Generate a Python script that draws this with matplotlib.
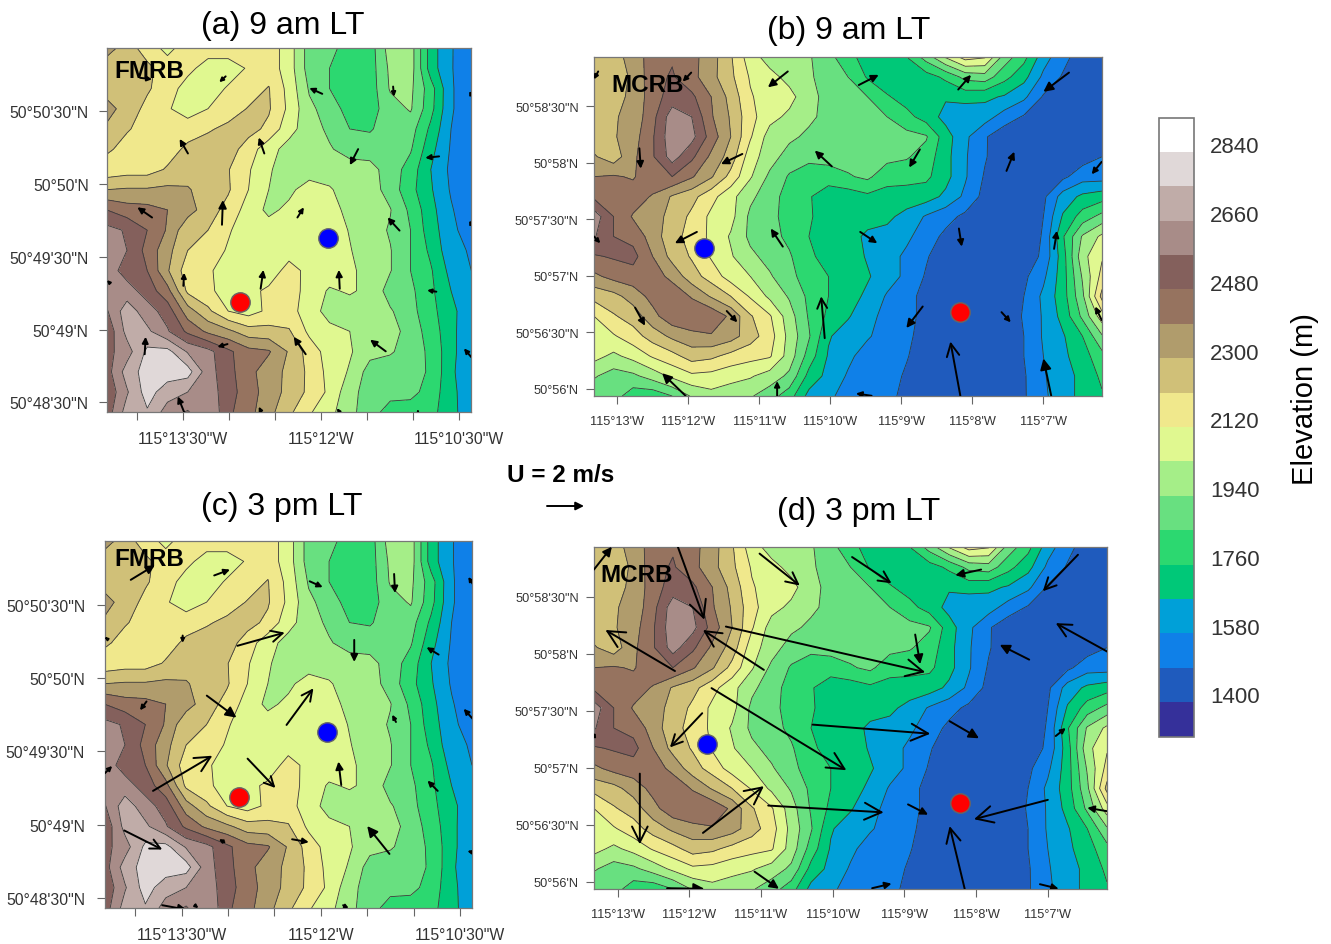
import numpy as np
import matplotlib
matplotlib.use('Agg')
import matplotlib.pyplot as plt
from matplotlib.colors import ListedColormap, BoundaryNorm
from matplotlib.patches import FancyArrowPatch
from matplotlib.colorbar import ColorbarBase

plt.rcParams['font.family'] = ['Liberation Sans', 'DejaVu Sans']

W, H = 1331, 945

levels = [1400, 1490, 1580, 1670, 1760, 1850, 1940, 2030, 2120, 2210, 2300, 2390, 2480, 2570, 2660, 2750, 2840]
colors = ['#35309a', '#1f5bbd', '#0f80e8', '#00a0d8', '#00c878', '#2cd870', '#68e080', '#a5ee88', '#e0f890',
          '#f0e88c', '#d0c078', '#b09c6c', '#96735f', '#84605c', '#a88c88', '#c0aca8', '#e0d8d8', '#ffffff']
cbar_labels = [1400, 1580, 1760, 1940, 2120, 2300, 2480, 2660, 2840]

# elevation (m), north to south, west to east
fmrb = [
    [2345, 2250, 2170, 2090, 2170, 2170, 2170, 2170, 2170, 2075, 1900, 1880, 1805, 1805, 1985, 1985, 1715, 1585, 1535],
    [2240, 2250, 2230, 2170, 2150, 2075, 2075, 2130, 2170, 2075, 1900, 1850, 1805, 1805, 1960, 1985, 1715, 1585, 1530],
    [2250, 2250, 2220, 2170, 2075, 2075, 2130, 2170, 2215, 2090, 1930, 1850, 1800, 1800, 1950, 1960, 1800, 1590, 1520],
    [2345, 2250, 2190, 2130, 2075, 2120, 2170, 2215, 2220, 2100, 1960, 1900, 1810, 1810, 1900, 1950, 1790, 1590, 1520],
    [2280, 2220, 2170, 2140, 2170, 2200, 2230, 2240, 2190, 2060, 1985, 1920, 1850, 1840, 1900, 1890, 1740, 1580, 1510],
    [2230, 2170, 2170, 2170, 2230, 2250, 2250, 2170, 2060, 2000, 1985, 1950, 1900, 1900, 1900, 1860, 1700, 1570, 1500],
    [2150, 2170, 2170, 2220, 2250, 2250, 2215, 2130, 2040, 1985, 1985, 1985, 1985, 1970, 1900, 1810, 1670, 1560, 1500],
    [2300, 2310, 2310, 2320, 2310, 2250, 2220, 2120, 2030, 2010, 2070, 2040, 1985, 1985, 1900, 1790, 1680, 1570, 1500],
    [2480, 2430, 2420, 2390, 2340, 2250, 2180, 2080, 2010, 2050, 2090, 2090, 1985, 1985, 1945, 1830, 1700, 1590, 1510],
    [2600, 2560, 2480, 2380, 2230, 2210, 2130, 2070, 2070, 2075, 2075, 2075, 2025, 1985, 1930, 1850, 1710, 1610, 1520],
    [2650, 2570, 2450, 2330, 2210, 2170, 2110, 2075, 2075, 2075, 2075, 2075, 2035, 1985, 1945, 1850, 1740, 1610, 1570],
    [2620, 2530, 2480, 2310, 2160, 2130, 2090, 2075, 2060, 2160, 2090, 2075, 2045, 2000, 1945, 1850, 1770, 1640, 1580],
    [2640, 2610, 2530, 2420, 2190, 2140, 2080, 2090, 2140, 2170, 2080, 2020, 2040, 2010, 1900, 1870, 1780, 1670, 1590],
    [2560, 2710, 2610, 2530, 2340, 2230, 2120, 2080, 2140, 2150, 2080, 1990, 1990, 1990, 1950, 1880, 1790, 1695, 1610],
    [2500, 2690, 2680, 2580, 2460, 2370, 2320, 2250, 2240, 2220, 2100, 2060, 2030, 1990, 1980, 1900, 1810, 1700, 1590],
    [2540, 2620, 2770, 2780, 2650, 2600, 2500, 2420, 2400, 2290, 2170, 2080, 2040, 1970, 1950, 1900, 1830, 1700, 1590],
    [2530, 2700, 2790, 2800, 2790, 2610, 2510, 2420, 2340, 2280, 2190, 2090, 2020, 1900, 1890, 1880, 1840, 1690, 1590],
    [2500, 2650, 2790, 2700, 2660, 2620, 2520, 2430, 2350, 2270, 2190, 2100, 1970, 1900, 1890, 1880, 1810, 1700, 1600],
    [2520, 2700, 2740, 2620, 2560, 2660, 2500, 2420, 2330, 2230, 2130, 2060, 1960, 1900, 1800, 1800, 1790, 1700, 1610],
]

mcrb = [
    [2240, 2270, 2330, 2440, 2470, 2420, 2340, 2220, 2070, 1990, 1970, 1950, 1880, 1790, 1720, 1710, 1760, 1890, 2040, 2160, 2130, 1900, 1790, 1620, 1520, 1440, 1430],
    [2220, 2270, 2310, 2450, 2490, 2420, 2330, 2230, 2110, 2060, 2000, 1960, 1880, 1850, 1750, 1700, 1700, 1720, 1780, 1880, 1900, 1790, 1700, 1560, 1480, 1440, 1420],
    [2230, 2270, 2320, 2440, 2520, 2500, 2390, 2270, 2130, 2070, 2060, 1970, 1910, 1860, 1850, 1770, 1720, 1690, 1680, 1700, 1690, 1660, 1600, 1480, 1430, 1420, 1420],
    [2240, 2290, 2330, 2450, 2620, 2570, 2400, 2290, 2150, 2060, 2010, 1960, 1910, 1880, 1880, 1850, 1790, 1720, 1640, 1610, 1620, 1540, 1480, 1440, 1420, 1420, 1420],
    [2250, 2290, 2350, 2470, 2630, 2600, 2440, 2300, 2130, 1990, 1960, 1920, 1900, 1890, 1890, 1890, 1880, 1860, 1710, 1600, 1500, 1430, 1420, 1420, 1420, 1420, 1420],
    [2310, 2250, 2370, 2470, 2610, 2500, 2370, 2260, 2070, 1980, 1900, 1870, 1880, 1890, 1890, 1880, 1860, 1810, 1700, 1590, 1500, 1420, 1420, 1420, 1420, 1450, 1490],
    [2390, 2400, 2380, 2460, 2480, 2400, 2310, 2180, 2040, 1920, 1840, 1810, 1810, 1840, 1870, 1790, 1790, 1780, 1700, 1590, 1480, 1420, 1420, 1420, 1470, 1540, 1540],
    [2460, 2480, 2440, 2380, 2290, 2240, 2150, 2060, 1960, 1890, 1810, 1770, 1700, 1710, 1740, 1730, 1720, 1710, 1650, 1560, 1460, 1410, 1410, 1470, 1620, 1690, 1720],
    [2620, 2480, 2380, 2340, 2270, 2190, 2100, 2060, 1920, 1880, 1810, 1770, 1720, 1710, 1710, 1690, 1640, 1570, 1520, 1470, 1420, 1410, 1410, 1490, 1680, 1800, 1880],
    [2580, 2480, 2450, 2350, 2240, 2180, 2100, 2020, 1920, 1880, 1830, 1760, 1710, 1710, 1650, 1640, 1600, 1530, 1470, 1420, 1420, 1420, 1420, 1500, 1750, 1950, 2050],
    [2470, 2490, 2510, 2390, 2270, 2200, 2110, 2040, 1960, 1910, 1860, 1780, 1720, 1720, 1660, 1620, 1560, 1500, 1430, 1420, 1420, 1420, 1430, 1510, 1720, 2000, 2110],
    [2370, 2420, 2440, 2440, 2360, 2250, 2170, 2080, 2030, 1950, 1880, 1800, 1760, 1730, 1680, 1620, 1560, 1480, 1420, 1420, 1420, 1420, 1470, 1560, 1720, 1950, 2150],
    [2240, 2270, 2340, 2420, 2460, 2380, 2290, 2210, 2110, 2010, 1930, 1830, 1760, 1710, 1650, 1570, 1520, 1460, 1420, 1420, 1420, 1430, 1490, 1600, 1720, 1920, 2240],
    [2120, 2200, 2250, 2360, 2450, 2470, 2460, 2370, 2220, 2130, 1980, 1840, 1740, 1680, 1600, 1560, 1510, 1470, 1420, 1420, 1420, 1420, 1500, 1590, 1700, 1870, 2080],
    [2080, 2110, 2170, 2250, 2320, 2360, 2380, 2340, 2250, 2160, 2000, 1860, 1680, 1620, 1590, 1540, 1510, 1450, 1420, 1420, 1420, 1420, 1490, 1590, 1660, 1760, 1930],
    [2060, 2010, 2060, 2130, 2180, 2250, 2230, 2180, 2150, 2130, 1990, 1810, 1660, 1600, 1540, 1520, 1495, 1450, 1420, 1420, 1420, 1420, 1490, 1580, 1650, 1720, 1820],
    [1950, 1900, 1920, 1980, 2050, 2100, 2090, 2060, 2040, 1990, 1920, 1730, 1640, 1570, 1540, 1520, 1480, 1410, 1410, 1410, 1410, 1420, 1480, 1570, 1640, 1690, 1780],
    [1880, 1890, 1800, 1790, 1850, 1950, 2000, 1980, 1950, 1890, 1800, 1640, 1590, 1560, 1530, 1510, 1470, 1410, 1410, 1410, 1410, 1420, 1480, 1560, 1640, 1690, 1750],
]

# map extents: minutes west of 115 deg, minutes north of 50 deg
fmrb_lon = (14.333, 10.37)
fmrb_lat = (50.935, 48.431)
mcrb_lon = (13.329, 6.175)
mcrb_lat = (58.938, 55.938)

fmrb_xticks = [14, 13.5, 13, 12.5, 12, 11.5, 11, 10.5]
fmrb_xlabels = ['', '115°13\'30"W', '', '', '115°12\'W', '', '', '115°10\'30"W']
fmrb_yticks = [48.5, 49, 49.5, 50, 50.5]
fmrb_ylabels = ['50°48\'30"N', "50°49'N", '50°49\'30"N', "50°50'N", '50°50\'30"N']
mcrb_xticks = [13, 12, 11, 10, 9, 8, 7]
mcrb_xlabels = ["115°13'W", "115°12'W", "115°11'W", "115°10'W", "115°9'W", "115°8'W", "115°7'W"]
mcrb_yticks = [56, 56.5, 57, 57.5, 58, 58.5]
mcrb_ylabels = ["50°56'N", '50°56\'30"N', "50°57'N", '50°57\'30"N', "50°58'N", '50°58\'30"N']

# wind arrows: lon tail, lat tail, lon head, lat head
wind_a = [(13.97, 50.73, 13.84, 50.72), (13.04, 50.74, 13.11, 50.70), (11.99, 50.62, 12.13, 50.66),
          (11.22, 50.67, 11.21, 50.60), (10.37, 50.61, 10.39, 50.64), (13.45, 50.21, 13.54, 50.31),
          (12.62, 50.21, 12.68, 50.32), (11.60, 50.24, 11.69, 50.13), (10.72, 50.19, 10.87, 50.18),
          (13.84, 49.77, 14.00, 49.84), (13.08, 49.72, 13.07, 49.89), (12.26, 49.77, 12.19, 49.84),
          (11.15, 49.68, 11.28, 49.77), (10.37, 49.72, 10.39, 49.75), (13.50, 49.30, 13.49, 49.39),
          (12.66, 49.28, 12.63, 49.41), (11.80, 49.28, 11.81, 49.41), (10.75, 49.26, 10.85, 49.27),
          (14.30, 49.32, 14.33, 49.34), (12.17, 48.83, 12.30, 48.95), (11.30, 48.85, 11.47, 48.93),
          (10.37, 48.81, 10.45, 48.87), (13.92, 48.83, 13.91, 48.95), (13.02, 48.90, 13.13, 48.88),
          (13.49, 48.43, 13.56, 48.54), (12.65, 48.43, 12.68, 48.47), (11.80, 48.43, 11.83, 48.46),
          (10.95, 48.43, 10.95, 48.45)]
wind_b = [(10.60, 58.81, 10.88, 58.67), (9.60, 58.69, 9.32, 58.78), (8.20, 58.65, 8.02, 58.78),
          (6.64, 58.80, 7.00, 58.63), (13.27, 58.81, 13.33, 58.74), (11.96, 58.80, 12.08, 58.72),
          (12.69, 58.13, 12.67, 57.95), (11.24, 58.08, 11.54, 57.99), (9.98, 57.97, 10.22, 58.11),
          (8.74, 58.12, 8.89, 57.96), (7.52, 57.93, 7.41, 58.10), (6.18, 58.01, 6.32, 57.90),
          (10.67, 57.26, 10.84, 57.42), (11.88, 57.39, 12.19, 57.29), (9.58, 57.39, 9.34, 57.29),
          (8.19, 57.42, 8.15, 57.26), (6.85, 57.24, 6.81, 57.40), (13.33, 57.35, 13.24, 57.29),
          (12.75, 56.72, 12.61, 56.56), (11.46, 56.69, 11.31, 56.59), (10.08, 56.45, 10.13, 56.82),
          (8.70, 56.73, 8.93, 56.54), (7.59, 56.68, 7.46, 56.59), (6.18, 56.61, 6.27, 56.73),
          (12.04, 55.94, 12.37, 56.14), (10.75, 55.94, 10.75, 56.07), (8.17, 55.94, 8.31, 56.42),
          (6.89, 55.94, 7.00, 56.27), (9.42, 55.94, 9.64, 55.96)]
wind_c = [(14.05, 50.67, 13.79, 50.77), (13.15, 50.70, 12.98, 50.74), (12.12, 50.66, 11.98, 50.62),
          (11.21, 50.71, 11.20, 50.58), (10.36, 50.64, 10.41, 50.69), (13.49, 50.29, 13.49, 50.24),
          (12.90, 50.22, 12.39, 50.31), (11.64, 50.26, 11.64, 50.11), (10.73, 50.16, 10.86, 50.21),
          (14.31, 50.27, 14.33, 50.28), (13.23, 49.88, 12.91, 49.73), (12.37, 49.68, 12.08, 49.93),
          (13.88, 49.84, 13.95, 49.78), (11.19, 49.70, 11.23, 49.75), (10.36, 49.72, 10.46, 49.79),
          (13.81, 49.23, 13.17, 49.47), (12.79, 49.45, 12.49, 49.25), (11.78, 49.27, 11.81, 49.43),
          (10.74, 49.23, 10.85, 49.30), (14.33, 49.35, 14.25, 49.40), (14.12, 48.96, 13.71, 48.83),
          (13.04, 48.88, 13.10, 48.90), (12.31, 48.90, 12.13, 48.88), (11.26, 48.80, 11.50, 48.99),
          (10.36, 48.81, 10.42, 48.82), (13.71, 48.45, 13.45, 48.42), (13.36, 48.45, 13.32, 48.43),
          (11.76, 48.45, 11.70, 48.43)]
wind_d = [(13.33, 58.74, 13.08, 58.94), (12.16, 58.94, 11.79, 58.30), (11.02, 58.88, 10.46, 58.60),
          (9.73, 58.85, 9.18, 58.62), (7.93, 58.74, 8.29, 58.69), (6.58, 58.87, 7.07, 58.55),
          (6.17, 58.02, 6.89, 58.27), (7.26, 57.95, 7.67, 58.08), (12.20, 57.85, 13.17, 58.21),
          (10.96, 57.86, 11.81, 58.21), (11.49, 58.24, 8.71, 57.84), (8.85, 58.17, 8.78, 57.91),
          (11.69, 57.70, 9.81, 56.98), (11.82, 57.48, 12.27, 57.18), (10.28, 57.38, 8.64, 57.30),
          (8.37, 57.41, 7.96, 57.26), (6.89, 57.28, 6.75, 57.35), (13.33, 57.27, 13.31, 57.31),
          (12.69, 56.95, 12.69, 56.33), (11.81, 56.43, 10.96, 56.84), (10.90, 56.67, 9.29, 56.61),
          (8.95, 56.68, 8.67, 56.59), (7.00, 56.72, 8.03, 56.55), (6.17, 56.62, 6.45, 56.65),
          (8.16, 55.94, 8.37, 56.49), (11.09, 56.09, 10.75, 55.94), (9.45, 55.945, 9.18, 55.985),
          (12.31, 55.945, 11.79, 55.94), (7.11, 55.98, 6.85, 55.94)]

# basin outlet stations
red_a, blue_a = (12.88, 49.19), (11.93, 49.63)
red_b, blue_b = (8.17, 56.68), (11.78, 57.25)
red_d, blue_d = (8.22, 56.69), (11.76, 57.21)

fig = plt.figure(figsize=(W / 100, H / 100), dpi=100)


def pix_axes(x0, y0, x1, y1):
    return fig.add_axes([x0 / W, 1 - y1 / H, (x1 - x0) / W, (y1 - y0) / H])


def pix_text(x, y, s, **kw):
    fig.text(x / W, 1 - y / H, s, ha=kw.pop('ha', 'center'), va='center', **kw)


def draw_arrows(ax, wind):
    for lon0, lat0, lon1, lat1 in wind:
        p0 = ax.transData.transform((lon0, lat0))
        p1 = ax.transData.transform((lon1, lat1))
        n = np.hypot(*(p1 - p0))
        # head grows with the length, open head only on the long ones
        head = min(0.2 * n + 1.5, 17) * 0.72
        style = '-|>' if n < 40 else '->'
        a = FancyArrowPatch((lon0, lat0), (lon1, lat1), arrowstyle=style, mutation_scale=head / 0.4,
                            shrinkA=0, shrinkB=0, lw=1.4, color='black', zorder=5)
        ax.add_patch(a)


def panel(box, elev, lons, lats, xt, xl, yt, yl, wind, red, blue, name, name_xy, tick_size, xpad, ypad):
    ax = pix_axes(*box)
    z = np.array(elev)
    x = np.linspace(lons[0], lons[1], z.shape[1])
    y = np.linspace(lats[0], lats[1], z.shape[0])
    ax.contourf(x, y, z, levels=levels, colors=colors[1:-1], extend='both')
    ax.contour(x, y, z, levels=levels, colors='#3a3a3a', linewidths=0.6, linestyles='solid')
    ax.set_xlim(lons)
    ax.set_ylim(lats[1], lats[0])
    ax.set_xticks(xt)
    ax.set_xticklabels(xl)
    ax.set_yticks(yt)
    ax.set_yticklabels(yl)
    ax.tick_params(length=6, width=0.8, color='#666666', labelcolor='#333333', labelsize=tick_size)
    ax.tick_params(axis='x', pad=xpad)
    ax.tick_params(axis='y', pad=ypad)
    for s in ax.spines.values():
        s.set_color('#777777')
        s.set_linewidth(0.9)
    draw_arrows(ax, wind)
    ax.plot(*red, 'o', ms=14, mfc='#ff0000', mec='#666666', mew=1, zorder=6)
    ax.plot(*blue, 'o', ms=14, mfc='#0000ff', mec='#666666', mew=1, zorder=6)
    pix_text(name_xy[0], name_xy[1], name, fontsize=17.5, fontweight='bold', color='black', zorder=7)
    return ax


panel((106.7, 49, 471.3, 413.3), fmrb, fmrb_lon, fmrb_lat, fmrb_xticks, fmrb_xlabels, fmrb_yticks, fmrb_ylabels,
      wind_a, red_a, blue_a, 'FMRB', (149, 71), 11.3, 7.5, 7)
panel((594, 58, 1102, 397), mcrb, mcrb_lon, mcrb_lat, mcrb_xticks, mcrb_xlabels, mcrb_yticks, mcrb_ylabels,
      wind_b, red_b, blue_b, 'MCRB', (648, 85), 9.2, 8, 5)
panel((104.5, 542, 472, 909), fmrb, fmrb_lon, fmrb_lat, fmrb_xticks, fmrb_xlabels, fmrb_yticks, fmrb_ylabels,
      wind_c, red_a, blue_a, 'FMRB', (149, 559), 11.3, 7.5, 8)
panel((594, 548, 1107, 890), mcrb, mcrb_lon, mcrb_lat, mcrb_xticks, mcrb_xlabels, mcrb_yticks, mcrb_ylabels,
      wind_d, red_d, blue_d, 'MCRB', (637, 575), 9.2, 8, 5)

pix_text(283, 26, '(a) 9 am LT', fontsize=23)
pix_text(849, 31, '(b) 9 am LT', fontsize=23)
pix_text(282, 507, '(c) 3 pm LT', fontsize=23)
pix_text(859, 512, '(d) 3 pm LT', fontsize=23)

pix_text(561, 476, 'U = 2 m/s', fontsize=17.5, fontweight='bold')
key = pix_axes(540, 497, 590, 517)
key.axis('off')
key.set_xlim(0, 50)
key.set_ylim(0, 20)
key.add_patch(FancyArrowPatch((7, 10), (44, 10), arrowstyle='-|>', mutation_scale=12, shrinkA=0, shrinkB=0,
                              lw=1.4, color='black'))

# colour bar, labels sit a little above the box edges like the original
cax = pix_axes(1159, 118.5, 1194, 737.5)
bounds = [levels[0] - 90] + levels + [levels[-1] + 90]
cb = ColorbarBase(cax, cmap=ListedColormap(colors), norm=BoundaryNorm(bounds, len(colors)), boundaries=bounds,
                  spacing='proportional', ticks=[v + 20 for v in cbar_labels])
cb.set_ticklabels([str(v) for v in cbar_labels])
cb.minorticks_off()
cb.ax.tick_params(length=0, labelsize=16, labelcolor='#333333', pad=11.5)
cb.outline.set_edgecolor('#777777')
cb.outline.set_linewidth(1.2)
pix_text(1305, 399, 'Elevation (m)', fontsize=21, rotation=90)

fig.savefig('out.png', dpi=100)
